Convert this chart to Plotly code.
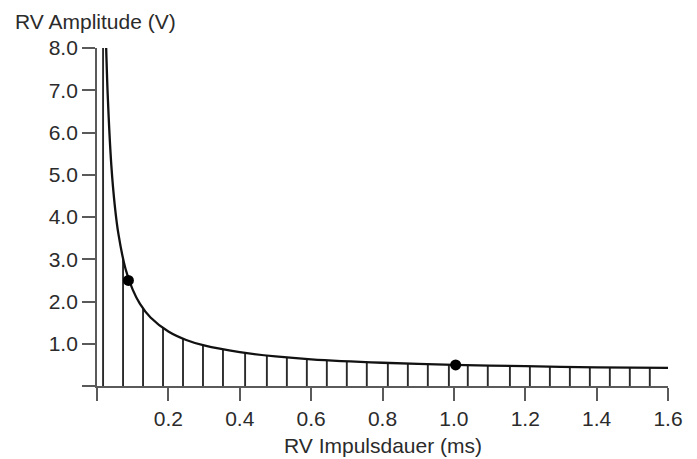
import plotly.graph_objects as go

# Strength-duration curve
curve_t = [0.0257, 0.03, 0.04, 0.05, 0.06, 0.08, 0.10, 0.12, 0.15, 0.20, 0.25, 0.30,
           0.40, 0.50, 0.60, 0.80, 1.00, 1.20, 1.40, 1.60]
curve_v = [8.0, 6.89, 5.24, 4.26, 3.60, 2.77, 2.28, 1.95, 1.62, 1.29, 1.09, 0.96,
           0.80, 0.70, 0.63, 0.55, 0.50, 0.47, 0.44, 0.43]

# Vertical hatch lines (position, height)
hatch_t = [0.017, 0.073, 0.129, 0.185, 0.241, 0.297, 0.353, 0.415, 0.476, 0.532,
           0.588, 0.644, 0.700, 0.756, 0.815, 0.871, 0.927, 0.986, 1.039, 1.095,
           1.157, 1.213, 1.269, 1.325, 1.381, 1.437, 1.493, 1.549]
hatch_v = [8.0, 3.01, 1.83, 1.37, 1.12, 0.97, 0.86, 0.78, 0.72, 0.67,
           0.64, 0.61, 0.58, 0.56, 0.545, 0.53, 0.515, 0.50, 0.49, 0.48,
           0.47, 0.465, 0.458, 0.451, 0.445, 0.439, 0.434, 0.43]

# Marked points
dot_t = [0.088, 1.005]
dot_v = [2.5, 0.5]

x_ticks = [0, 0.2, 0.4, 0.6, 0.8, 1.0, 1.2, 1.4, 1.6]
x_ticktext = ["", "0.2", "0.4", "0.6", "0.8", "1.0", "1.2", "1.4", "1.6"]
y_ticks = [0, 1, 2, 3, 4, 5, 6, 7, 8]
y_ticktext = ["", "1.0", "2.0", "3.0", "4.0", "5.0", "6.0", "7.0", "8.0"]

FONT = "Liberation Sans, Arial, sans-serif"
FS = 21

hx, hy = [], []
for t, v in zip(hatch_t, hatch_v):
    hx += [t, t, None]
    hy += [0, v, None]

fig = go.Figure()
fig.add_trace(go.Scatter(x=hx, y=hy, mode="lines",
                         line=dict(color="#2a2a2a", width=1.9),
                         hoverinfo="skip", showlegend=False))
fig.add_trace(go.Scatter(x=curve_t, y=curve_v, mode="lines",
                         line=dict(color="#111111", width=2.3, shape="spline", smoothing=0.8),
                         showlegend=False))
fig.add_trace(go.Scatter(x=dot_t, y=dot_v, mode="markers",
                         marker=dict(color="#000000", size=11),
                         showlegend=False))

fig.update_layout(
    width=689, height=451,
    margin=dict(l=89, r=29, t=40, b=73),
    paper_bgcolor="white", plot_bgcolor="white",
    font=dict(family=FONT, size=FS, color="#2b2b2b"),
    xaxis=dict(range=[0, 1.6], tickvals=x_ticks, ticktext=x_ticktext,
               showgrid=False, zeroline=False, showline=True,
               linecolor="#5a5a5a", linewidth=1.8,
               ticks="outside", ticklen=13, tickwidth=1.6, tickcolor="#5a5a5a"),
    yaxis=dict(range=[0, 8], tickvals=y_ticks, ticktext=y_ticktext,
               showgrid=False, zeroline=False, showline=True,
               linecolor="#5a5a5a", linewidth=1.8,
               ticks="outside", ticklen=13, tickwidth=1.6, tickcolor="#5a5a5a"),
    annotations=[
        dict(text="RV Amplitude (V)", xref="paper", yref="paper",
             x=-0.147, y=1.077, xanchor="left", yanchor="middle",
             showarrow=False, font=dict(family=FONT, size=FS, color="#2b2b2b")),
        dict(text="RV Impulsdauer (ms)", xref="paper", yref="paper",
             x=0.5, y=-0.175, xanchor="center", yanchor="middle",
             showarrow=False, font=dict(family=FONT, size=FS, color="#2b2b2b")),
    ],
)

fig.write_html("out.html")
